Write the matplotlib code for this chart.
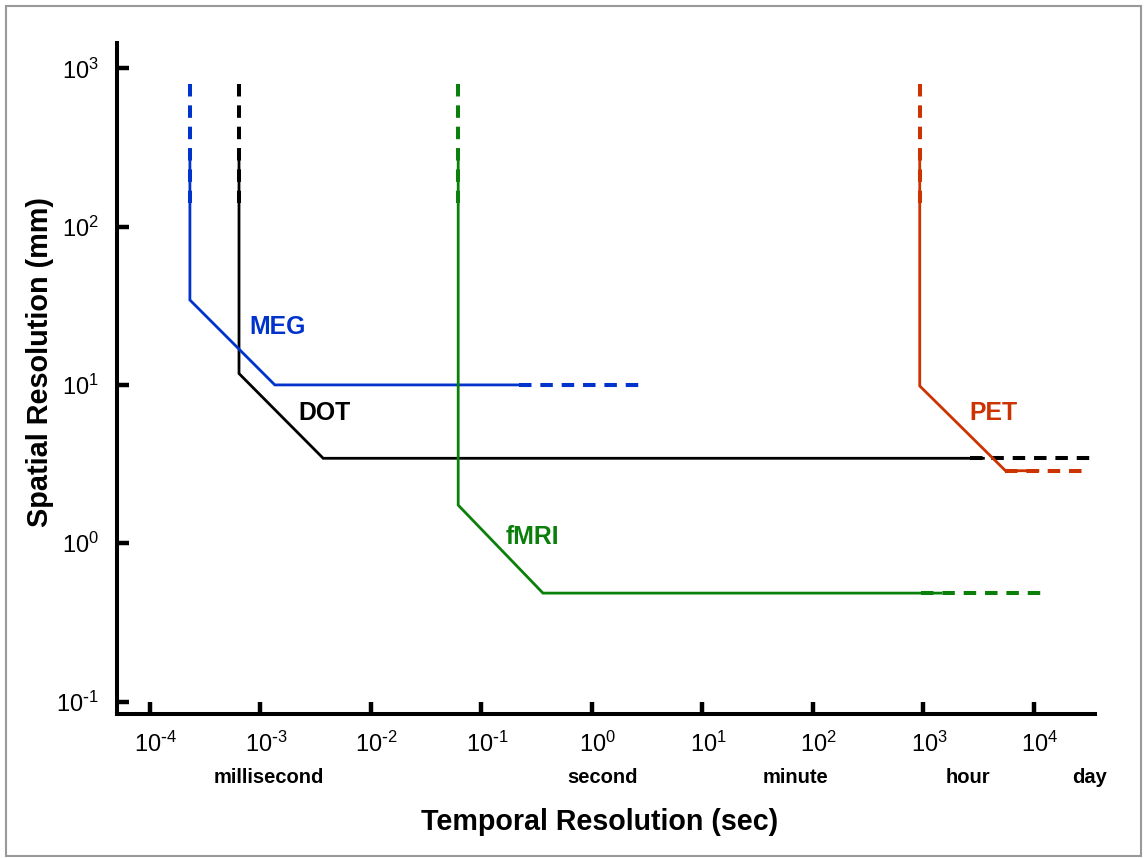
import matplotlib
matplotlib.use("Agg")
import matplotlib.pyplot as plt
import matplotlib.transforms as mtransforms
from matplotlib.patches import Rectangle
from matplotlib.ticker import NullLocator

plt.rcParams['font.family'] = ['Liberation Sans', 'DejaVu Sans']
plt.rcParams['mathtext.default'] = 'regular'

# solid parts of each resolution envelope (sec, mm)
meg_x = [2.3e-4, 2.3e-4, 1.35e-3, 0.22]
meg_y = [260, 34.4, 10, 10]
dot_x = [6.4e-4, 6.4e-4, 3.7e-3, 3500]
dot_y = [260, 11.8, 3.44, 3.44]
fmri_x = [0.0617, 0.0617, 0.361, 1440]
fmri_y = [260, 1.74, 0.484, 0.484]
pet_x = [929, 929, 5550, 10900]
pet_y = [260, 9.85, 2.87, 2.87]

# dashed extensions: vertical (top) and horizontal (right)
top_y = [800, 141]
meg_dash_x = [0.22, 2.65]
dot_dash_x = [2640, 32000]
fmri_dash_x = [955, 11600]
pet_dash_x = [5550, 28100]

names = ['DOT', 'MEG', 'fMRI', 'PET']
colors = ['#000000', '#0033cc', '#0a800a', '#cc3300']
label_x = [3.8e-3, 1.43e-3, 0.287, 4350]
label_y = [6.64, 23.2, 1.09, 6.64]

xticks = [1e-4, 1e-3, 1e-2, 1e-1, 1e0, 1e1, 1e2, 1e3, 1e4]
xtick_labels = [r'$10^{\text{-}4}$', r'$10^{\text{-}3}$', r'$10^{\text{-}2}$',
                r'$10^{\text{-}1}$', '$10^{0}$', '$10^{1}$', '$10^{2}$',
                '$10^{3}$', '$10^{4}$']
yticks = [1e-1, 1e0, 1e1, 1e2, 1e3]
ytick_labels = [r'$10^{\text{-}1}$', '$10^{0}$', '$10^{1}$', '$10^{2}$', '$10^{3}$']
units = ['millisecond', 'second', 'minute', 'hour', 'day']
unit_x = [1.2e-3, 1.26, 69.5, 2540, 32000]

fig = plt.figure(figsize=(11.45, 8.58), dpi=100)
ax = fig.add_axes([0.1022, 0.1678, 0.8538, 0.7821])
ax.set_xscale('log')
ax.set_yscale('log')
ax.set_xlim(10**-4.298, 10**4.551)
ax.set_ylim(10**-1.079, 10**3.16)

solid = [(dot_x, dot_y), (meg_x, meg_y), (fmri_x, fmri_y), (pet_x, pet_y)]
dash_h = [(dot_dash_x, dot_y[-1]), (meg_dash_x, meg_y[-1]),
          (fmri_dash_x, fmri_y[-1]), (pet_dash_x, pet_y[-1])]
dash_pat = (3.1, 2.2)

for i in range(4):
    c = colors[i]
    ax.plot(solid[i][0], solid[i][1], color=c, lw=2.0, solid_joinstyle='miter', zorder=2 + i)
    ax.plot([solid[i][0][0]] * 2, top_y, color=c, lw=2.9, dashes=dash_pat, zorder=2 + i)
    hx, hy = dash_h[i]
    ax.plot(hx, [hy, hy], color=c, lw=2.9, dashes=dash_pat, zorder=2 + i)
    ax.text(label_x[i], label_y[i], names[i], color=c, fontsize=17.8, fontweight='bold',
            ha='center', va='center')

for s in ['top', 'right']:
    ax.spines[s].set_visible(False)
for s in ['left', 'bottom']:
    ax.spines[s].set_linewidth(2.9)

ax.set_xticks(xticks)
ax.set_xticklabels(xtick_labels)
ax.set_yticks(yticks)
ax.set_yticklabels(ytick_labels)
ax.xaxis.set_minor_locator(NullLocator())
ax.yaxis.set_minor_locator(NullLocator())
ax.tick_params(direction='in', length=8.5, width=3.2, labelsize=17, pad=13)

# base "10" sits over the tick, superscript hangs to the right
shift = mtransforms.ScaledTranslation(6 / 100, 0, fig.dpi_scale_trans)
for lab in ax.get_xticklabels():
    lab.set_transform(lab.get_transform() + shift)

trans = mtransforms.blended_transform_factory(ax.transData, fig.transFigure)
for u, ux in zip(units, unit_x):
    fig.text(ux, 0.0944, u, transform=trans, fontsize=14.5, fontweight='bold',
             ha='center', va='center')

fig.text(0.524, 0.042, 'Temporal Resolution (sec)', fontsize=20.6, fontweight='bold',
         ha='center', va='center')
fig.text(0.035, 0.578, 'Spatial Resolution (mm)', fontsize=20.8, fontweight='bold',
         ha='center', va='center', rotation=90)

fig.patches.append(Rectangle((0.0052, 0.0023), 0.991, 0.9907, transform=fig.transFigure,
                             fill=False, edgecolor='#999999', lw=1.5))

fig.savefig('out.png', dpi=100)
